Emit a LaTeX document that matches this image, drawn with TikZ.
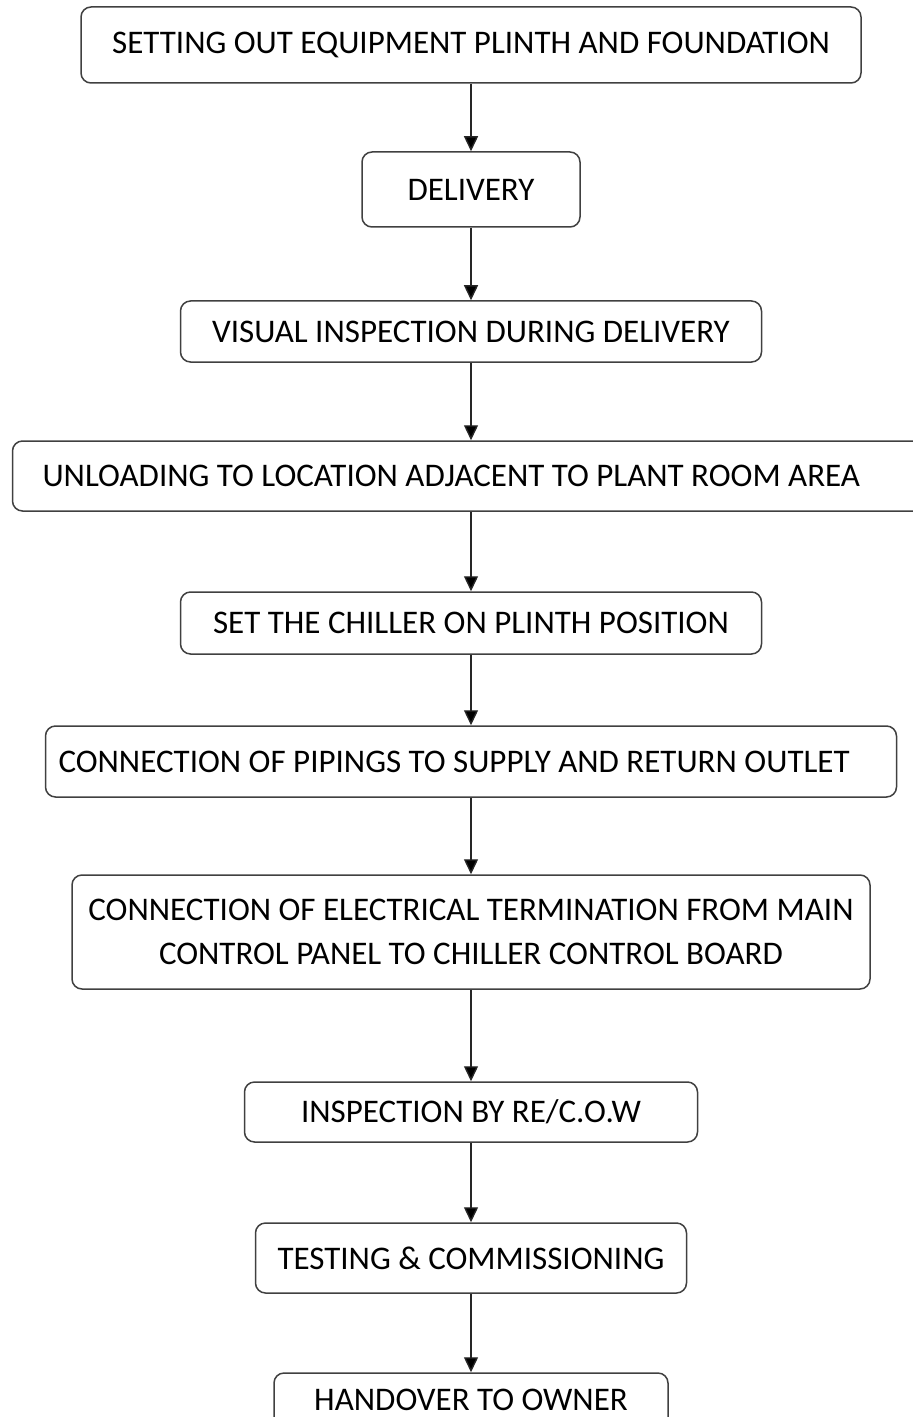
\documentclass[tikz,border=0pt]{standalone}
\usepackage{fontspec}
\setmainfont{Carlito}
\usepackage{tikz}
\usetikzlibrary{arrows.meta}

\tikzset{
	stagebox/.style={shape=rectangle,rounded corners=5pt,draw=black!75,line width=0.75pt,
		align=center,inner sep=0pt,font=\fontsize{16.5pt}{22pt}\selectfont},
	flow/.style={draw=black!85,line width=0.7pt,-{Triangle[width=7pt,length=7.5pt]}}
}

\begin{document}
\begin{tikzpicture}[x=0.5pt,y=-0.5pt]
	\path[use as bounding box,clip] (0,0) rectangle (913,1417);

	\node[stagebox,minimum width=390pt,minimum height=38pt] (setout)   at (471, 45)    {SETTING OUT EQUIPMENT PLINTH AND FOUNDATION};
	\node[stagebox,minimum width=109pt,minimum height=37.5pt] (deliver) at (471, 189.5) {DELIVERY};
	\node[stagebox,minimum width=290.5pt,minimum height=30.5pt] (visual) at (471, 331.5) {VISUAL INSPECTION DURING DELIVERY};
	\node[stagebox,text width=428.5pt,inner xsep=15pt,align=flush left,minimum height=35pt] (unload) at (471, 476) {UNLOADING TO LOCATION ADJACENT TO PLANT ROOM AREA};
	\node[stagebox,minimum width=290.5pt,minimum height=31pt] (plinth)  at (471, 623)   {SET THE CHILLER ON PLINTH POSITION};
	\node[stagebox,text width=412.5pt,inner xsep=6.5pt,align=flush left,minimum height=35.5pt] (piping) at (471, 761.5) {CONNECTION OF PIPINGS TO SUPPLY AND RETURN OUTLET};
	\node[stagebox,minimum width=399pt,minimum height=57pt] (elec)      at (471, 932)   {CONNECTION OF ELECTRICAL TERMINATION FROM MAIN\\CONTROL PANEL TO CHILLER CONTROL BOARD};
	\node[stagebox,minimum width=226.5pt,minimum height=30pt] (inspect) at (471, 1112)  {INSPECTION BY RE/C.O.W};
	\node[stagebox,minimum width=215.5pt,minimum height=35pt] (testing) at (471, 1258)  {TESTING \& COMMISSIONING};
	\node[stagebox,minimum width=197pt,minimum height=27pt] (handover) at (471, 1400)  {HANDOVER TO OWNER};

	\path[flow] (setout) edge (deliver);
	\path[flow] (deliver) edge (visual);
	\path[flow] (visual) edge (unload);
	\path[flow] (unload) edge (plinth);
	\path[flow] (plinth) edge (piping);
	\path[flow] (piping) edge (elec);
	\path[flow] (elec) edge (inspect);
	\path[flow] (inspect) edge (testing);
	\path[flow] (testing) edge (handover);

\end{tikzpicture}
\end{document}
